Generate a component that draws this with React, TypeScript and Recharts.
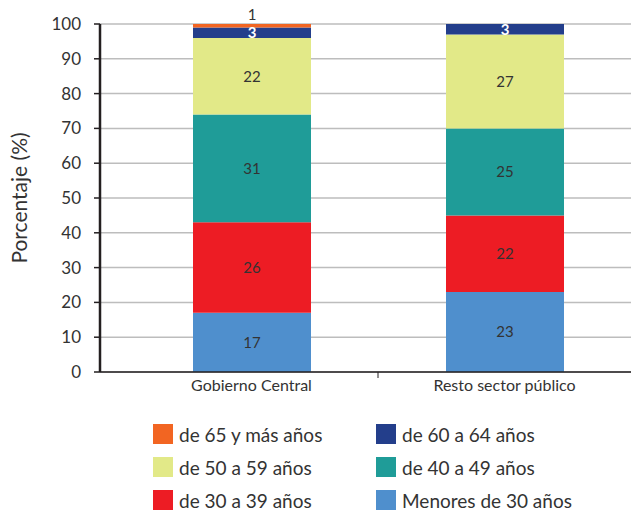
import { BarChart, Bar, XAxis, YAxis, CartesianGrid, LabelList } from "recharts";

const categories = ["Gobierno Central", "Resto sector público"];
const menores30 = [17, 23];
const de30a39 = [26, 22];
const de40a49 = [31, 25];
const de50a59 = [22, 27];
const de60a64 = [3, 3];
const de65mas = [1, 0];
const yTicks = [0, 10, 20, 30, 40, 50, 60, 70, 80, 90, 100];

const series = [
  { key: "m30", name: "Menores de 30 años", values: menores30, color: "#4f8fcd" },
  { key: "d30", name: "de 30 a 39 años", values: de30a39, color: "#ed1c24" },
  { key: "d40", name: "de 40 a 49 años", values: de40a49, color: "#1f9c98" },
  { key: "d50", name: "de 50 a 59 años", values: de50a59, color: "#e2e988" },
  { key: "d60", name: "de 60 a 64 años", values: de60a64, color: "#233e8b" },
  { key: "d65", name: "de 65 y más años", values: de65mas, color: "#f26522" },
];

const data = categories.map((cat, i) => {
  const row: Record<string, string | number> = { cat };
  series.forEach((s) => (row[s.key] = s.values[i]));
  return row;
});

// legend rows, two columns
const legendOrder = ["d65", "d60", "d50", "d40", "d30", "m30"];

const FONT = "Lato, 'DejaVu Sans', sans-serif";
const W = 631;
const PLOT_LEFT = 100;
const PAD_LEFT = 25;
const BAND = (W - PLOT_LEFT - PAD_LEFT) / categories.length;

const CatTick = (props: any) => {
  const { x, y, payload, index } = props;
  return (
    <g>
      <text x={x} y={y} dy={11} textAnchor="middle" fill="#333" fontSize={16} fontFamily={FONT}>
        {payload.value}
      </text>
      {index === 0 && (
        <line x1={x + BAND / 2} x2={x + BAND / 2} y1={372} y2={378} stroke="#231f20" strokeWidth={1} />
      )}
    </g>
  );
};

const hideZero = (v: any) => (v ? v : "");

export default function App() {
  return (
    <div style={{ position: "absolute", left: 0, top: 0, width: W, height: 511, background: "#fff", fontFamily: FONT }}>
      <BarChart
        width={W}
        height={402}
        data={data}
        margin={{ top: 24, right: 0, bottom: 0, left: 0 }}
        barSize={118}
      >
        <CartesianGrid vertical={false} stroke="#bdbdbd" strokeWidth={1.5} />
        <XAxis
          dataKey="cat"
          height={30}
          padding={{ left: PAD_LEFT, right: 0 }}
          axisLine={{ stroke: "#231f20", strokeWidth: 1.5 }}
          tickLine={false}
          tick={<CatTick />}
        />
        <YAxis
          width={PLOT_LEFT}
          domain={[0, 100]}
          ticks={yTicks}
          interval={0}
          axisLine={{ stroke: "#231f20", strokeWidth: 2.5 }}
          tickLine={{ stroke: "#231f20", strokeWidth: 1.5 }}
          tickSize={6}
          tickMargin={13}
          tick={{ fill: "#333", fontSize: 17, fontFamily: FONT }}
          label={{
            value: "Porcentaje (%)",
            angle: -90,
            position: "insideLeft",
            offset: 20,
            style: { textAnchor: "middle", fill: "#333", fontSize: 21, fontFamily: FONT },
          }}
        />
        {series.map((s) => (
          <Bar key={s.key} dataKey={s.key} stackId="a" fill={s.color} isAnimationActive={false}>
            {s.key === "d65" ? (
              <LabelList
                dataKey={s.key}
                position="top"
                offset={4}
                formatter={hideZero}
                style={{ fill: "#333", fontSize: 15, fontFamily: FONT }}
              />
            ) : s.key === "d60" ? (
              <LabelList
                dataKey={s.key}
                position="center"
                style={{ fill: "#fff", fontSize: 15, fontWeight: 700, fontFamily: FONT }}
              />
            ) : (
              <LabelList
                dataKey={s.key}
                position="center"
                style={{ fill: "#333", fontSize: 15, fontFamily: FONT }}
              />
            )}
          </Bar>
        ))}
      </BarChart>
      <div
        style={{
          display: "grid",
          gridTemplateColumns: "223px 230px",
          rowGap: 13,
          paddingLeft: 153,
          paddingTop: 22,
        }}
      >
        {legendOrder.map((k) => {
          const s = series.find((x) => x.key === k)!;
          return (
            <div key={k} style={{ display: "flex", alignItems: "center", height: 20 }}>
              <span style={{ width: 20, height: 20, background: s.color, display: "inline-block", flex: "none" }} />
              <span style={{ marginLeft: 6, fontSize: 19, color: "#333", whiteSpace: "nowrap" }}>{s.name}</span>
            </div>
          );
        })}
      </div>
    </div>
  );
}
